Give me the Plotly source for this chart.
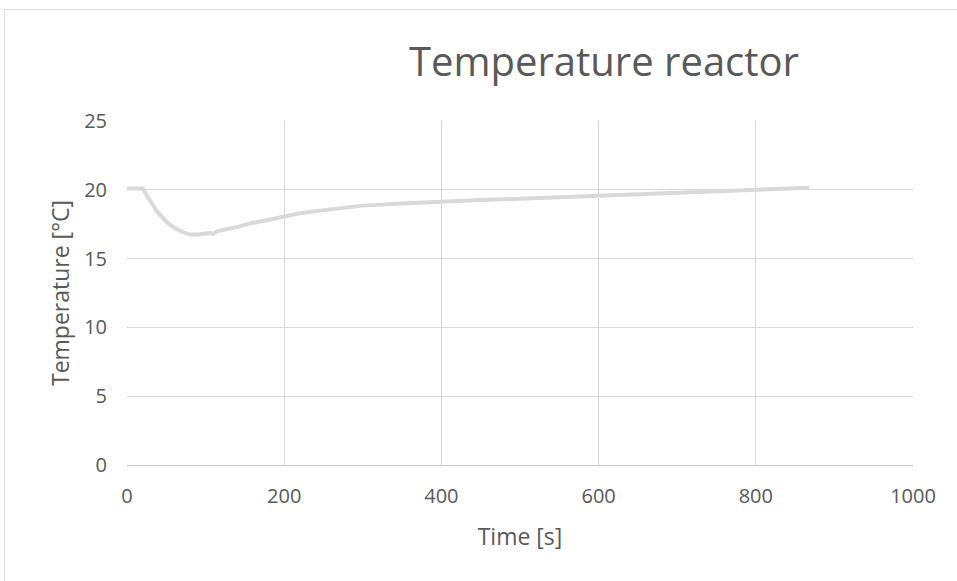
import plotly.graph_objects as go

time_s = [0, 5, 10, 15, 20, 25, 30, 35, 40, 45, 50, 55, 60, 70, 80, 90, 100, 105, 110, 115,
          120, 130, 140, 150, 160, 175, 190, 200, 220, 240, 260, 280, 300, 350, 400, 450,
          500, 550, 600, 650, 700, 750, 800, 850, 868]
temp_c = [20.1, 20.1, 20.1, 20.12, 20.1, 19.6, 19.1, 18.7, 18.3, 17.95, 17.7, 17.45, 17.25,
          16.95, 16.75, 16.75, 16.8, 16.85, 16.8, 17.0, 17.05, 17.15, 17.3, 17.45, 17.6,
          17.75, 17.95, 18.1, 18.3, 18.45, 18.6, 18.75, 18.85, 19.0, 19.15, 19.25, 19.35,
          19.45, 19.6, 19.7, 19.8, 19.9, 20.0, 20.1, 20.15]

x_ticks = [0, 200, 400, 600, 800, 1000]
y_ticks = [0, 5, 10, 15, 20, 25]

FONT = "Open Sans"
TXT = "#595959"
GRID = "#d9d9d9"

fig = go.Figure(go.Scatter(x=time_s, y=temp_c, mode="lines",
                           line=dict(color="#d9d9d9", width=4), showlegend=False))

fig.update_layout(
    width=957, height=581,
    margin=dict(l=127, r=44, t=121, b=116),
    paper_bgcolor="white", plot_bgcolor="white",
    font=dict(family=FONT, color=TXT),
    title=dict(text="Temperature reactor", x=604 / 957, xanchor="center",
               y=1 - 62 / 581, yanchor="middle",
               font=dict(family=FONT, size=40, color=TXT)),
    shapes=[dict(type="rect", xref="paper", yref="paper",
                 x0=(4.5 - 127) / 786, x1=(990 - 127) / 786,
                 y0=-(600 - 465) / 344, y1=(465 - 9.5) / 344,
                 line=dict(color="#d9d9d9", width=1), fillcolor="rgba(0,0,0,0)",
                 layer="below")],
)
fig.update_xaxes(range=[0, 1000], tickvals=x_ticks, showgrid=True, gridcolor=GRID,
                 gridwidth=1, zeroline=False, showline=True, linecolor="#c8c8c8",
                 ticks="", tickfont=dict(size=20, color=TXT), ticklabelstandoff=13,
                 title=dict(text="Time [s]", font=dict(size=23, color=TXT), standoff=20),
                 mirror=False)
fig.update_yaxes(range=[0, 25], tickvals=y_ticks, showgrid=True, gridcolor=GRID,
                 gridwidth=1, zeroline=False, showline=False, ticks="",
                 tickfont=dict(size=20, color=TXT), ticklabelstandoff=19,
                 title=dict(text="Temperature [°C]", font=dict(size=23, color=TXT), standoff=8))

fig.write_html("out.html", config={"displayModeBar": False},
               post_script="document.body.style.margin='0';document.body.style.overflow='hidden';")
